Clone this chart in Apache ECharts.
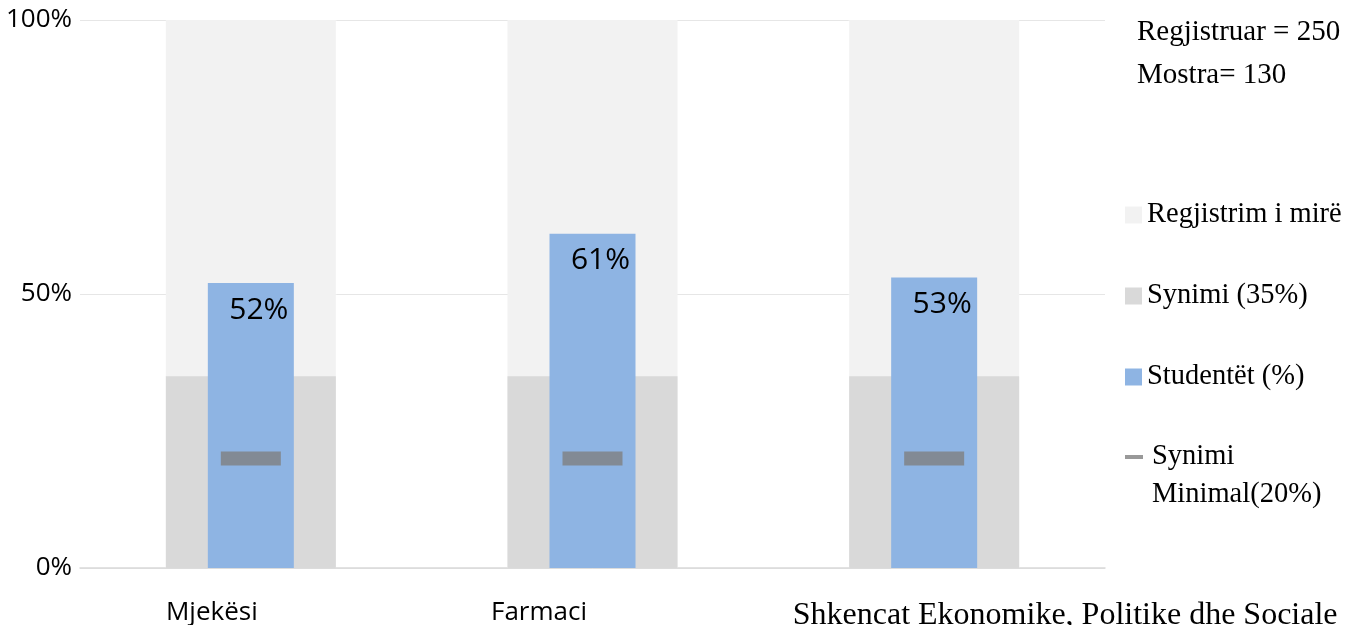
<!DOCTYPE html>
<html><head><meta charset="utf-8">
<script src="https://cdn.jsdelivr.net/npm/echarts@6/dist/echarts.min.js"></script>
<style>html,body{margin:0;padding:0;background:#fff}#c{width:1347px;height:625px}</style>
</head><body><div id="c"></div>
<script>
const categories = ['Mjekësi', 'Farmaci', 'Shkencat Ekonomike, Politike dhe Sociale'];
const goodRegistration = [100, 100, 100];
const target = [35, 35, 35];
const students = [52, 61, 53];
const minTarget = [20, 20, 20];
const seriesNames = ['Regjistrim i mirë', 'Synimi (35%)', 'Studentët (%)', 'Synimi Minimal(20%)'];
const noteLines = ['Regjistruar = 250', 'Mostra= 130'];

const SANS = '"Open Sans", sans-serif';
const SERIF = '"Liberation Serif", "Times New Roman", serif';
const labelStyles = [
  { fontFamily: SANS, fontSize: 26, padding: [0, 78, 0, 0] },
  { fontFamily: SANS, fontSize: 26, padding: [0, 107, 0, 0] },
  { fontFamily: SERIF, fontSize: 32, padding: [0, 0, 0, 262] }
];

const chart = echarts.init(document.getElementById('c'), null, { renderer: 'canvas' });
const hiddenX = { type: 'category', data: categories, show: false };
const legendText = { fontFamily: SERIF, fontSize: 28.5, color: '#000', lineHeight: 38 };
chart.setOption({
  animation: false,
  grid: { left: 80, right: 242, top: 20, bottom: 57, containLabel: false, outerBoundsMode: 'none' },
  xAxis: [
    {
      type: 'category',
      data: categories.map((c, i) => ({ value: c, textStyle: labelStyles[i] })),
      axisLine: { lineStyle: { color: '#d9d9d9', width: 1.5 } },
      axisTick: { show: false },
      axisLabel: { color: '#000', margin: 32, interval: 0 }
    },
    Object.assign({}, hiddenX),
    Object.assign({}, hiddenX)
  ],
  yAxis: {
    type: 'value', min: 0, max: 100, interval: 50,
    axisLine: { show: false }, axisTick: { show: false },
    axisLabel: { formatter: '{value}%', color: '#000', fontFamily: SANS, fontSize: 26, margin: 8, padding: [4, 0, 0, 0] },
    splitLine: { lineStyle: { color: '#e6e6e6', width: 1 } }
  },
  legend: [
    {
      orient: 'vertical', left: 1120, top: 191,
      itemWidth: 17, itemHeight: 17, itemGap: 43,
      textStyle: legendText,
      data: [
        { name: seriesNames[0], icon: 'rect' },
        { name: seriesNames[1], icon: 'rect' },
        { name: seriesNames[2], icon: 'rect' }
      ]
    },
    {
      orient: 'vertical', left: 1120, top: 395,
      itemWidth: 18, itemHeight: 4,
      textStyle: Object.assign({}, legendText, { padding: [0, 0, 0, 4] }),
      formatter: n => ' \nSynimi\nMinimal(20%)',
      data: [{ name: seriesNames[3], icon: 'rect' }]
    }
  ],
  graphic: noteLines.map((t, i) => ({
    type: 'text', left: 1137, top: 18 + i * 43,
    style: { text: t, font: '29px ' + SERIF, fill: '#000' }
  })),
  series: [
    { name: seriesNames[0], type: 'bar', xAxisIndex: 0, data: goodRegistration, barWidth: 170, barGap: '-100%',
      itemStyle: { color: '#f2f2f2' }, z: 1 },
    { name: seriesNames[1], type: 'bar', xAxisIndex: 0, data: target, barWidth: 170, barGap: '-100%',
      itemStyle: { color: '#d9d9d9' }, z: 2 },
    { name: seriesNames[2], type: 'bar', xAxisIndex: 1, data: students, barWidth: 86,
      itemStyle: { color: '#8eb4e3' }, z: 3,
      label: { show: true, position: 'insideTop', distance: 12, offset: [8, 0], formatter: '{c}%',
        color: '#000', fontFamily: SANS, fontSize: 30 } },
    { name: seriesNames[3], type: 'scatter', xAxisIndex: 2, data: minTarget,
      symbol: 'rect', symbolSize: [60, 14], itemStyle: { color: '#7f7f7f' }, z: 4 }
  ]
});
</script></body></html>
